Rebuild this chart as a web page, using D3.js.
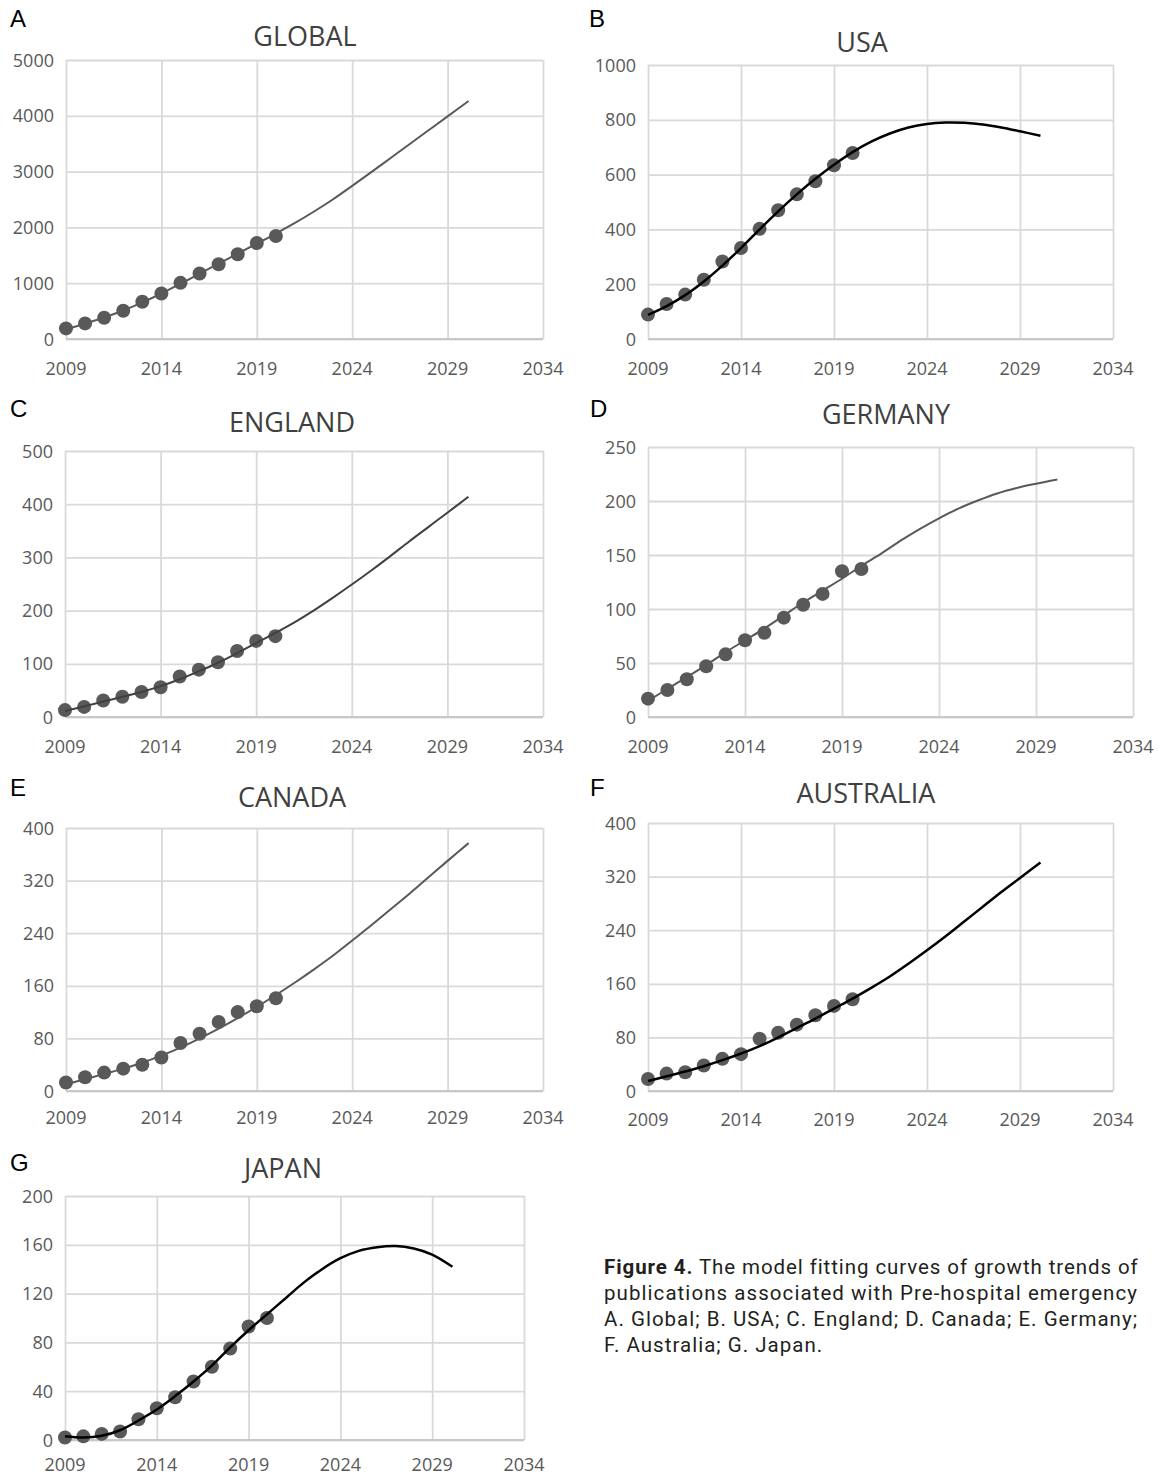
<!DOCTYPE html>
<html>
<head>
<meta charset="utf-8">
<script src="https://cdn.jsdelivr.net/npm/d3@7"></script>
<style>
  body { margin: 0; background: #fff; }
  svg { display: block; }
</style>
</head>
<body>
<svg id="fig" width="1158" height="1475"></svg>
<script>
// observed years and fitted-curve sample years
const years = [2009, 2010, 2011, 2012, 2013, 2014, 2015, 2016, 2017, 2018, 2019, 2020];
const fitYears = [2009, 2010, 2011, 2012, 2013, 2014, 2015, 2016, 2017, 2018, 2019, 2020,
  2021, 2022, 2023, 2024, 2025, 2026, 2027, 2028, 2029, 2030.1];
const xTicks = [2009, 2014, 2019, 2024, 2029, 2034];

const globalPoints = [190, 280, 380, 506, 667, 815, 1006, 1173, 1339, 1518, 1720, 1845];
const globalFit = [170, 275, 385, 510, 655, 815, 990, 1170, 1350, 1530, 1710, 1890,
  2080, 2285, 2505, 2745, 2990, 3240, 3490, 3740, 3990, 4265];
const globalTicks = [0, 1000, 2000, 3000, 4000, 5000];

const usaPoints = [89, 128, 162, 216, 283, 332, 402, 470, 528, 576, 634, 679];
const usaFit = [88, 120, 160, 210, 268, 332, 400, 466, 528, 585, 636, 682,
  720, 750, 772, 785, 790, 789, 783, 772, 758, 742];
const usaTicks = [0, 200, 400, 600, 800, 1000];

const englandPoints = [13, 19, 31, 38, 47, 56, 76, 89, 103, 124, 143, 152];
const englandFit = [11, 20, 29, 38, 47, 58, 71, 86, 102, 120, 139, 158,
  178, 200, 224, 249, 275, 302, 330, 357, 384, 414];
const englandTicks = [0, 100, 200, 300, 400, 500];

const germanyPoints = [17, 25, 35, 47, 58, 71, 78, 92, 104, 114, 135, 137];
const germanyFit = [15, 26, 37, 48, 60, 71, 82, 94, 106, 117, 128, 140,
  151, 163, 174, 184, 193, 200.5, 207, 212, 216, 220];
const germanyTicks = [0, 50, 100, 150, 200, 250];

const canadaPoints = [13, 21, 28, 34, 40, 51, 73, 87, 105, 120, 129, 141];
const canadaFit = [10, 18, 26, 34, 43, 54, 66, 80, 95, 111, 128, 146,
  165, 185, 206, 229, 252, 276, 300, 325, 350, 377];
const canadaTicks = [0, 80, 160, 240, 320, 400];

const australiaPoints = [18, 26, 28, 38, 48, 55, 78, 87, 99, 113, 127, 137];
const australiaFit = [15, 22, 29, 37, 46, 56, 67, 80, 94, 108, 123, 138,
  154, 171, 190, 210, 231, 253, 275, 297, 318, 341];
const australiaTicks = [0, 80, 160, 240, 320, 400];

const japanPoints = [2, 3, 5, 7, 17, 26, 35, 48, 60, 75, 93, 100];
const japanFit = [3, 2, 3.5, 8, 16, 25, 36, 48, 61, 76, 90, 103,
  116, 129, 140, 149, 155, 158, 159, 157, 152, 142];
const japanTicks = [0, 40, 80, 120, 160, 200];

const captionLines = [
  ["Figure 4.", " The model fitting curves of growth trends of"],
  ["", "publications associated with Pre-hospital emergency"],
  ["", "A. Global; B. USA; C. England; D. Canada; E. Germany;"],
  ["", "F. Australia; G. Japan."]
];

// panel layout (plot box in page pixels)
const panels = [
  { letter: "A", title: "GLOBAL", pts: globalPoints, fit: globalFit, ticks: globalTicks,
    x0: 66, x1: 543, top: 60, bot: 339, tx: 305, ty: 36, lx: 10, ly: 18, line: "#595959", lw: 2, xo: 36 },
  { letter: "B", title: "USA", pts: usaPoints, fit: usaFit, ticks: usaTicks,
    x0: 648, x1: 1113, top: 65, bot: 339, tx: 862, ty: 42, lx: 589, ly: 18, line: "#000", lw: 2.5, xo: 36 },
  { letter: "C", title: "ENGLAND", pts: englandPoints, fit: englandFit, ticks: englandTicks,
    x0: 65, x1: 543, top: 451, bot: 717, tx: 292, ty: 422, lx: 10, ly: 408, line: "#404040", lw: 2, xo: 36 },
  { letter: "D", title: "GERMANY", pts: germanyPoints, fit: germanyFit, ticks: germanyTicks,
    x0: 648, x1: 1133, top: 447, bot: 717, tx: 886, ty: 414, lx: 590, ly: 408, line: "#595959", lw: 2, xo: 36 },
  { letter: "E", title: "CANADA", pts: canadaPoints, fit: canadaFit, ticks: canadaTicks,
    x0: 66, x1: 543, top: 828, bot: 1091, tx: 292, ty: 797, lx: 10, ly: 787, line: "#595959", lw: 2, xo: 33 },
  { letter: "F", title: "AUSTRALIA", pts: australiaPoints, fit: australiaFit, ticks: australiaTicks,
    x0: 648, x1: 1113, top: 823, bot: 1091, tx: 866, ty: 793, lx: 590, ly: 787, line: "#000", lw: 2.5, xo: 35 },
  { letter: "G", title: "JAPAN", pts: japanPoints, fit: japanFit, ticks: japanTicks,
    x0: 65, x1: 524, top: 1196, bot: 1440, tx: 283, ty: 1168, lx: 10, ly: 1162, line: "#000", lw: 2.5, xo: 31 }
];

const svg = d3.select("#fig");
svg.append("rect").attr("width", 1158).attr("height", 1475).attr("fill", "#fff");

const tickFont = "'Open Sans', sans-serif";

panels.forEach(p => {
  const x = d3.scaleLinear().domain([2009, 2034]).range([p.x0, p.x1]);
  const y = d3.scaleLinear().domain([p.ticks[0], p.ticks[p.ticks.length - 1]]).range([p.bot, p.top]);
  const g = svg.append("g");

  // grid (horizontal + vertical, incl. frame)
  g.append("g")
    .attr("transform", `translate(${p.x0},0)`)
    .call(d3.axisLeft(y).tickValues(p.ticks).tickSize(-(p.x1 - p.x0)).tickFormat(""))
    .call(a => a.select(".domain").remove())
    .selectAll("line").attr("stroke", "#d9d9d9").attr("stroke-width", 1.8);
  g.append("g")
    .attr("transform", `translate(0,${p.bot})`)
    .call(d3.axisBottom(x).tickValues(xTicks).tickSize(-(p.bot - p.top)).tickFormat(""))
    .call(a => a.select(".domain").remove())
    .selectAll("line").attr("stroke", "#d9d9d9").attr("stroke-width", 1.8);
  g.append("line")
    .attr("x1", p.x0).attr("x2", p.x1).attr("y1", p.bot).attr("y2", p.bot)
    .attr("stroke", "#c8c8c8").attr("stroke-width", 2);

  // tick labels
  g.selectAll(".ylab").data(p.ticks).enter().append("text")
    .attr("x", p.x0 - 12).attr("y", d => y(d) + 6.5)
    .attr("text-anchor", "end")
    .attr("font-family", tickFont).attr("font-size", 18).attr("fill", "#595959")
    .text(d => d);
  g.selectAll(".xlab").data(xTicks).enter().append("text")
    .attr("x", d => x(d)).attr("y", p.bot + p.xo)
    .attr("text-anchor", "middle")
    .attr("font-family", tickFont).attr("font-size", 18).attr("fill", "#595959")
    .text(d => d);

  // observed points
  g.selectAll("circle").data(p.pts).enter().append("circle")
    .attr("cx", (d, i) => x(years[i])).attr("cy", d => y(d))
    .attr("r", 7).attr("fill", "#595959");

  // fitted curve
  const line = d3.line()
    .x((d, i) => x(fitYears[i])).y(d => y(d))
    .curve(d3.curveCatmullRom.alpha(0.5));
  g.append("path").datum(p.fit)
    .attr("d", line).attr("fill", "none")
    .attr("stroke", p.line).attr("stroke-width", p.lw);

  // title and panel letter
  g.append("text")
    .attr("x", p.tx).attr("y", p.ty + 10)
    .attr("text-anchor", "middle")
    .attr("font-family", tickFont).attr("font-size", 27).attr("fill", "#404040")
    .text(p.title);
  g.append("text")
    .attr("x", p.lx).attr("y", p.ly + 9)
    .attr("font-family", "'Liberation Sans', Arial, sans-serif").attr("font-size", 24).attr("fill", "#000")
    .text(p.letter);
});

// caption: first three lines justified to the reference column width
const cap = svg.append("text")
  .attr("font-family", "Roboto, 'Noto Sans', sans-serif")
  .attr("font-size", 20.5).attr("fill", "#231f20");
let lastSpacing = 0;
captionLines.forEach((ln, i) => {
  const t = cap.append("tspan").attr("x", 604).attr("y", 1274 + i * 26);
  if (ln[0]) t.append("tspan").attr("font-weight", "bold").text(ln[0]);
  t.append("tspan").text(ln[1]);
  const chars = (ln[0] + ln[1]).length;
  if (i < 3) {
    const natural = t.node().getComputedTextLength();
    lastSpacing = Math.max(0, (533 - natural) / (chars - 1));
  }
  t.attr("letter-spacing", lastSpacing);
});
</script>
</body>
</html>
